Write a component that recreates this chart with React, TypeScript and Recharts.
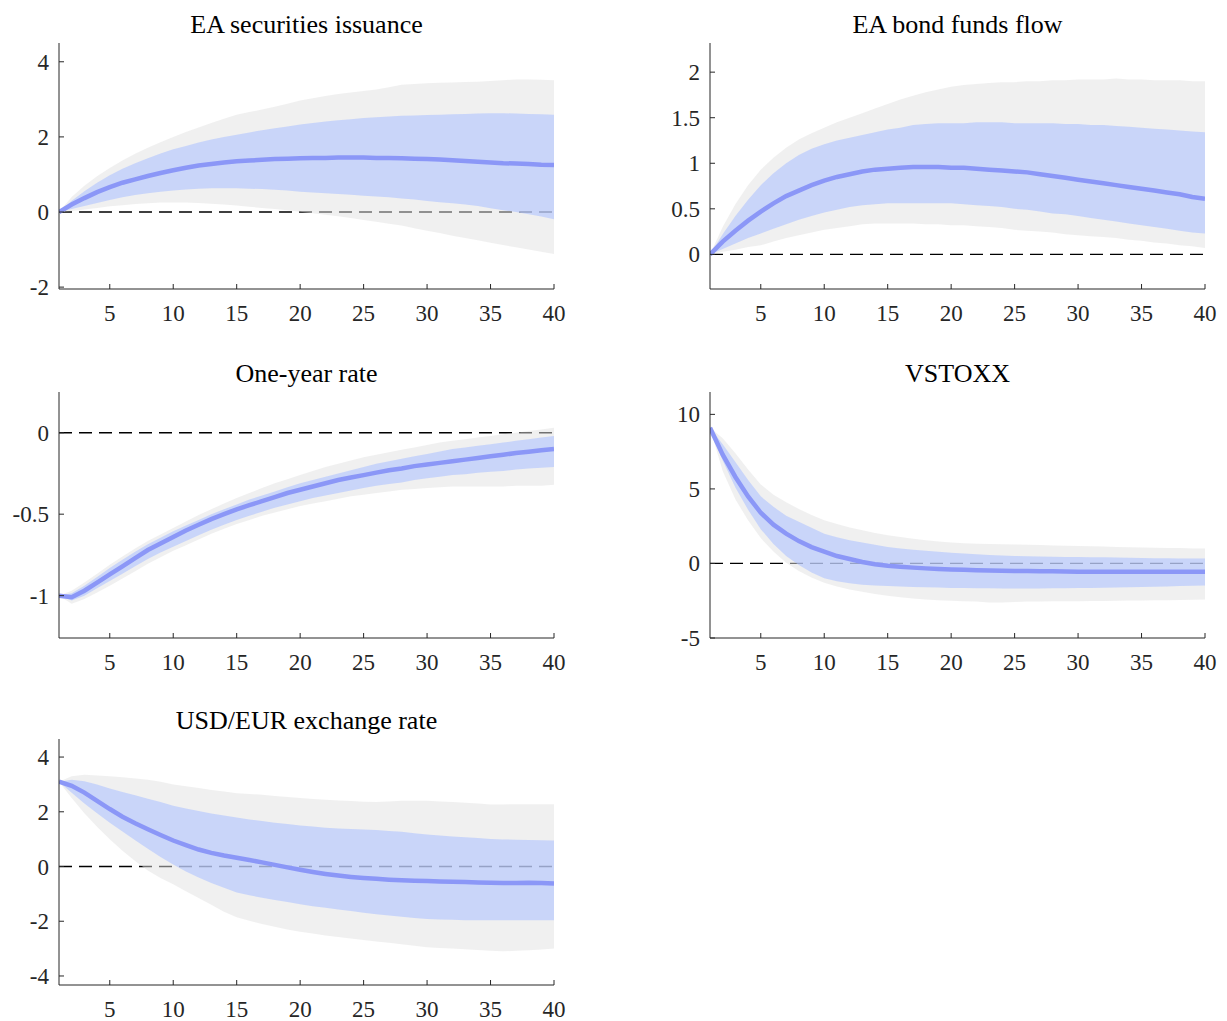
import { ComposedChart, Area, Line, XAxis, YAxis, CartesianGrid, ReferenceLine } from 'recharts'

// horizon 1..40
const periods = Array.from({ length: 40 }, (_, i) => i + 1)
const xTicks = [5, 10, 15, 20, 25, 30, 35, 40]

// EA securities issuance
const issuanceMed = [0, 0.2, 0.37, 0.53, 0.66, 0.78, 0.87, 0.96, 1.04, 1.11, 1.18, 1.24, 1.28, 1.32, 1.35, 1.37, 1.39, 1.41, 1.42, 1.43, 1.44, 1.44, 1.45, 1.45, 1.45, 1.44, 1.44, 1.43, 1.42, 1.41, 1.4, 1.38, 1.36, 1.34, 1.32, 1.3, 1.29, 1.28, 1.26, 1.25]
const issuanceLo68 = [0, 0.08, 0.16, 0.24, 0.32, 0.39, 0.45, 0.5, 0.54, 0.57, 0.6, 0.62, 0.63, 0.63, 0.63, 0.62, 0.61, 0.59, 0.57, 0.54, 0.52, 0.5, 0.48, 0.46, 0.43, 0.41, 0.39, 0.36, 0.33, 0.29, 0.26, 0.23, 0.2, 0.16, 0.1, 0.05, 0.0, -0.06, -0.12, -0.19]
const issuanceHi68 = [0, 0.3, 0.55, 0.78, 0.98, 1.15, 1.3, 1.43, 1.56, 1.67, 1.76, 1.85, 1.93, 2.0, 2.06, 2.12, 2.18, 2.23, 2.28, 2.33, 2.37, 2.41, 2.44, 2.47, 2.5, 2.52, 2.54, 2.56, 2.57, 2.58, 2.59, 2.6, 2.61, 2.62, 2.63, 2.63, 2.62, 2.61, 2.6, 2.59]
const issuanceLo90 = [0, 0.03, 0.07, 0.11, 0.15, 0.18, 0.21, 0.23, 0.25, 0.25, 0.25, 0.24, 0.22, 0.2, 0.17, 0.14, 0.11, 0.08, 0.05, 0.01, -0.03, -0.07, -0.11, -0.16, -0.21, -0.26, -0.31, -0.36, -0.43, -0.5, -0.56, -0.63, -0.69, -0.75, -0.82, -0.88, -0.94, -1.0, -1.06, -1.12]
const issuanceHi90 = [0, 0.4, 0.7, 0.95, 1.17, 1.37, 1.55, 1.71, 1.86, 2.0, 2.13, 2.25, 2.37, 2.48, 2.59, 2.66, 2.73, 2.8, 2.88, 2.97, 3.03, 3.09, 3.14, 3.18, 3.22, 3.26, 3.32, 3.39, 3.41, 3.43, 3.44, 3.45, 3.46, 3.47, 3.49, 3.51, 3.53, 3.53, 3.52, 3.51]

// EA bond funds flow
const fundsMed = [0, 0.14, 0.26, 0.37, 0.47, 0.56, 0.64, 0.7, 0.76, 0.81, 0.85, 0.88, 0.91, 0.93, 0.94, 0.95, 0.96, 0.96, 0.96, 0.95, 0.95, 0.94, 0.93, 0.92, 0.91, 0.9, 0.88, 0.86, 0.84, 0.82, 0.8, 0.78, 0.76, 0.74, 0.72, 0.7, 0.68, 0.66, 0.63, 0.61]
const fundsLo68 = [0, 0.06, 0.12, 0.18, 0.23, 0.28, 0.33, 0.38, 0.42, 0.46, 0.49, 0.52, 0.54, 0.55, 0.56, 0.56, 0.56, 0.56, 0.56, 0.56, 0.55, 0.54, 0.53, 0.52, 0.5, 0.49, 0.47, 0.45, 0.44, 0.42, 0.4, 0.38, 0.36, 0.34, 0.32, 0.3, 0.28, 0.26, 0.24, 0.23]
const fundsHi68 = [0, 0.22, 0.42, 0.6, 0.76, 0.89, 1.0, 1.09, 1.16, 1.21, 1.25, 1.28, 1.31, 1.34, 1.37, 1.39, 1.42, 1.43, 1.44, 1.44, 1.44, 1.45, 1.45, 1.45, 1.44, 1.44, 1.44, 1.44, 1.43, 1.43, 1.42, 1.42, 1.41, 1.4, 1.39, 1.38, 1.37, 1.36, 1.35, 1.34]
const fundsLo90 = [0, 0.03, 0.05, 0.08, 0.1, 0.14, 0.18, 0.21, 0.24, 0.27, 0.29, 0.31, 0.33, 0.34, 0.34, 0.34, 0.34, 0.33, 0.33, 0.32, 0.32, 0.31, 0.3, 0.29, 0.27, 0.26, 0.25, 0.24, 0.22, 0.21, 0.2, 0.19, 0.18, 0.16, 0.15, 0.13, 0.12, 0.1, 0.09, 0.07]
const fundsHi90 = [0, 0.3, 0.55, 0.76, 0.93, 1.06, 1.17, 1.26, 1.33, 1.39, 1.45, 1.5, 1.55, 1.6, 1.65, 1.7, 1.74, 1.78, 1.81, 1.84, 1.86, 1.87, 1.88, 1.89, 1.89, 1.9, 1.9, 1.91, 1.91, 1.92, 1.92, 1.92, 1.93, 1.92, 1.92, 1.91, 1.91, 1.91, 1.9, 1.9]

// One-year rate
const rateMed = [-1.0, -1.01, -0.97, -0.92, -0.87, -0.82, -0.77, -0.72, -0.68, -0.64, -0.6, -0.565, -0.53, -0.5, -0.47, -0.445, -0.42, -0.395, -0.37, -0.35, -0.33, -0.31, -0.29, -0.275, -0.26, -0.245, -0.23, -0.22, -0.205, -0.195, -0.185, -0.175, -0.165, -0.155, -0.145, -0.135, -0.125, -0.117, -0.108, -0.1]
const rateLo68 = [-1.0, -1.03, -1.0, -0.955, -0.91, -0.865, -0.82, -0.775, -0.735, -0.7, -0.665, -0.63, -0.595, -0.565, -0.535, -0.51, -0.485, -0.46, -0.44, -0.42, -0.4, -0.385, -0.37, -0.355, -0.34, -0.325, -0.315, -0.305, -0.29, -0.28, -0.27, -0.26, -0.255, -0.245, -0.24, -0.235, -0.225, -0.22, -0.215, -0.21]
const rateHi68 = [-1.0, -0.985, -0.94, -0.885, -0.83, -0.78, -0.73, -0.685, -0.645, -0.605, -0.57, -0.535, -0.5, -0.47, -0.44, -0.41, -0.385, -0.36, -0.335, -0.31, -0.29, -0.27, -0.25, -0.23, -0.21, -0.19, -0.175, -0.16, -0.145, -0.13, -0.115, -0.1, -0.09, -0.08, -0.07, -0.06, -0.05, -0.04, -0.03, -0.02]
const rateLo90 = [-1.0, -1.05, -1.02, -0.98, -0.94, -0.895, -0.85, -0.805, -0.765, -0.725, -0.69, -0.655, -0.62, -0.59, -0.56, -0.535, -0.51, -0.49, -0.47, -0.45, -0.435, -0.42, -0.405, -0.39, -0.38, -0.37, -0.36, -0.35, -0.345, -0.34, -0.335, -0.33, -0.33, -0.33, -0.33, -0.33, -0.325, -0.325, -0.325, -0.32]
const rateHi90 = [-1.0, -0.97, -0.92, -0.865, -0.81, -0.76, -0.71, -0.665, -0.625, -0.585, -0.545, -0.505, -0.47, -0.435, -0.4, -0.37, -0.34, -0.31, -0.285, -0.26, -0.235, -0.21, -0.19, -0.17, -0.15, -0.135, -0.12, -0.105, -0.09, -0.075, -0.06, -0.05, -0.04, -0.03, -0.02, -0.01, 0.0, 0.01, 0.02, 0.03]

// VSTOXX
const vstoxxMed = [9.1, 7.3, 5.8, 4.5, 3.4, 2.6, 2.0, 1.5, 1.1, 0.8, 0.5, 0.3, 0.1, -0.05, -0.15, -0.22, -0.28, -0.33, -0.37, -0.4, -0.43, -0.45, -0.47, -0.49, -0.5, -0.51, -0.52, -0.53, -0.54, -0.55, -0.55, -0.55, -0.55, -0.55, -0.55, -0.55, -0.55, -0.55, -0.55, -0.55]
const vstoxxLo68 = [9.1, 6.9, 5.1, 3.6, 2.3, 1.3, 0.5, -0.1, -0.6, -1.0, -1.2, -1.33, -1.42, -1.48, -1.52, -1.55, -1.58, -1.6, -1.62, -1.64, -1.65, -1.66, -1.67, -1.68, -1.68, -1.68, -1.68, -1.67, -1.66, -1.65, -1.64, -1.63, -1.61, -1.6, -1.58, -1.56, -1.54, -1.52, -1.5, -1.48]
const vstoxxHi68 = [9.1, 8.0, 6.8, 5.6, 4.5, 3.8, 3.2, 2.8, 2.4, 2.0, 1.75, 1.55, 1.4, 1.25, 1.1, 1.0, 0.92, 0.85, 0.78, 0.72, 0.66, 0.61, 0.57, 0.54, 0.5, 0.48, 0.46, 0.45, 0.44, 0.43, 0.42, 0.41, 0.4, 0.38, 0.36, 0.35, 0.35, 0.34, 0.34, 0.34]
const vstoxxLo90 = [9.1, 6.2, 4.3, 2.9, 1.7, 0.8, 0.05, -0.5, -0.95, -1.3, -1.55, -1.75, -1.9, -2.05, -2.17, -2.27, -2.35, -2.42, -2.46, -2.5, -2.53, -2.56, -2.62, -2.62, -2.58, -2.56, -2.55, -2.54, -2.53, -2.53, -2.52, -2.51, -2.5, -2.49, -2.48, -2.47, -2.46, -2.45, -2.43, -2.42]
const vstoxxHi90 = [9.1, 8.4, 7.4, 6.3, 5.3, 4.6, 4.1, 3.65, 3.25, 2.9, 2.65, 2.42, 2.22, 2.05, 1.9, 1.77, 1.65, 1.55, 1.47, 1.4, 1.36, 1.33, 1.31, 1.29, 1.27, 1.25, 1.23, 1.21, 1.19, 1.17, 1.15, 1.13, 1.11, 1.09, 1.07, 1.05, 1.04, 1.03, 1.01, 1.0]

// USD/EUR exchange rate
const fxMed = [3.1, 2.95, 2.7, 2.4, 2.1, 1.82, 1.58, 1.36, 1.15, 0.95, 0.78, 0.62, 0.5, 0.4, 0.32, 0.24, 0.15, 0.06, -0.03, -0.12, -0.2, -0.27, -0.33, -0.38, -0.42, -0.45, -0.48, -0.5, -0.52, -0.53, -0.55, -0.56, -0.57, -0.58, -0.59, -0.6, -0.6, -0.59, -0.6, -0.62]
const fxLo68 = [3.1, 2.7, 2.3, 1.95, 1.6, 1.28, 0.96, 0.65, 0.35, 0.07, -0.18, -0.4, -0.6, -0.78, -0.95, -1.05, -1.14, -1.22, -1.3, -1.38, -1.45, -1.51, -1.57, -1.63, -1.69, -1.74, -1.79, -1.84, -1.88, -1.92, -1.94, -1.95, -1.96, -1.96, -1.96, -1.96, -1.96, -1.96, -1.96, -1.96]
const fxHi68 = [3.1, 3.17, 3.12, 3.0, 2.85, 2.72, 2.6, 2.48, 2.36, 2.22, 2.12, 2.03, 1.94, 1.86, 1.79, 1.72, 1.66, 1.6, 1.55, 1.5, 1.46, 1.42, 1.39, 1.37, 1.35, 1.33, 1.3, 1.27, 1.22, 1.17, 1.13, 1.1, 1.07, 1.04, 1.01, 0.99, 0.98, 0.97, 0.96, 0.95]
const fxLo90 = [3.1, 2.5, 1.95, 1.45, 1.0, 0.58, 0.2, -0.15, -0.42, -0.65, -0.9, -1.15, -1.4, -1.65, -1.85, -1.98, -2.1, -2.2, -2.3, -2.38, -2.45, -2.52, -2.58, -2.63, -2.69, -2.74, -2.79, -2.84, -2.9, -2.95, -2.98, -3.0, -3.02, -3.05, -3.08, -3.1, -3.08, -3.06, -3.03, -3.0]
const fxHi90 = [3.1, 3.3, 3.35, 3.33, 3.3, 3.26, 3.22, 3.17, 3.1, 3.0, 2.93, 2.87, 2.8, 2.74, 2.68, 2.65, 2.62, 2.58, 2.54, 2.5, 2.47, 2.44, 2.41, 2.39, 2.37, 2.36, 2.38, 2.4, 2.4, 2.4, 2.38, 2.36, 2.33, 2.3, 2.27, 2.27, 2.28, 2.28, 2.28, 2.28]

const AXIS = '#262626'
const FONT = "'Liberation Serif', 'Times New Roman', serif"

const PLOT_W = 495
const PLOT_H = 246
const LEFT = 59
const TOP = 43
const W = LEFT + PLOT_W + 25
const H = TOP + PLOT_H + 45

function makeRows(med: number[], lo68: number[], hi68: number[], lo90: number[], hi90: number[]) {
  return periods.map((t, i) => ({
    t,
    med: med[i],
    inner: [lo68[i], hi68[i]],
    outer: [lo90[i], hi90[i]],
  }))
}

const XTick = (props: any) => {
  const { x, y, payload } = props
  return (
    <g>
      <line x1={x} x2={x} y1={y} y2={y - 5} stroke={AXIS} />
      <text x={x} y={y + 32} textAnchor="middle" fontSize={23} fontFamily={FONT} fill={AXIS}>
        {payload.value}
      </text>
    </g>
  )
}

const YTick = (props: any) => {
  const { x, y, payload } = props
  return (
    <g>
      <line x1={x} x2={x + 5} y1={y} y2={y} stroke={AXIS} />
      <text x={x - 10} y={y + 8} textAnchor="end" fontSize={23} fontFamily={FONT} fill={AXIS}>
        {payload.value}
      </text>
    </g>
  )
}

interface PanelProps {
  title: string
  left: number
  top: number
  domain: [number, number]
  yTicks: number[]
  data: any[]
}

function Panel({ title, left, top, domain, yTicks, data }: PanelProps) {
  const margin = { top: TOP, right: W - LEFT - PLOT_W, left: 0, bottom: 0 }
  return (
    <div style={{ position: 'absolute', left: left - LEFT, top: top - TOP, width: W, height: H }}>
      {/* grid and zero line sit under the bands */}
      <div style={{ position: 'absolute', left: 0, top: 0 }}>
        <ComposedChart width={W} height={H} data={data} margin={margin}>
          <CartesianGrid stroke="#dfdfdf" horizontalValues={yTicks} verticalValues={xTicks} />
          <XAxis dataKey="t" type="number" domain={[1, 40]} ticks={xTicks} height={45} axisLine={false} tickLine={false} tick={false} allowDataOverflow />
          <YAxis type="number" domain={domain} ticks={yTicks} width={LEFT} axisLine={false} tickLine={false} tick={false} allowDataOverflow />
          <ReferenceLine y={0} stroke="#000" strokeWidth={1.3} strokeDasharray="13 7" />
          <Line dataKey="med" stroke="none" dot={false} isAnimationActive={false} />
        </ComposedChart>
      </div>
      <div style={{ position: 'absolute', left: 0, top: 0 }}>
        <ComposedChart width={W} height={H} data={data} margin={margin}>
          <XAxis
            dataKey="t"
            type="number"
            domain={[1, 40]}
            ticks={xTicks}
            interval={0}
            height={45}
            axisLine={{ stroke: AXIS }}
            tickLine={false}
            tickSize={0}
            tickMargin={0}
            tick={<XTick />}
            allowDataOverflow
          />
          <YAxis
            type="number"
            domain={domain}
            ticks={yTicks}
            interval={0}
            width={LEFT}
            axisLine={{ stroke: AXIS }}
            tickLine={false}
            tickSize={0}
            tickMargin={0}
            tick={<YTick />}
            allowDataOverflow
          />
          <Area dataKey="outer" type="linear" fill="#e1e1e1" fillOpacity={0.5} stroke="none" isAnimationActive={false} />
          <Area dataKey="inner" type="linear" fill="#afc3ff" fillOpacity={0.6} stroke="none" isAnimationActive={false} />
          <Line dataKey="med" type="linear" stroke="#8b97f7" strokeWidth={4.5} dot={false} isAnimationActive={false} />
        </ComposedChart>
      </div>
      <svg width={W} height={TOP} style={{ position: 'absolute', left: 0, top: 0 }}>
        <text x={LEFT + PLOT_W / 2} y={TOP - 10} textAnchor="middle" fontSize={26} fontFamily={FONT} fill="#000">
          {title}
        </text>
      </svg>
    </div>
  )
}

export default function App() {
  return (
    <div style={{ position: 'absolute', left: 0, top: 0, width: 1227, height: 1021, background: '#fff' }}>
      <Panel
        title="EA securities issuance"
        left={59}
        top={43}
        domain={[-2.05, 4.5]}
        yTicks={[-2, 0, 2, 4]}
        data={makeRows(issuanceMed, issuanceLo68, issuanceHi68, issuanceLo90, issuanceHi90)}
      />
      <Panel
        title="EA bond funds flow"
        left={710}
        top={43}
        domain={[-0.38, 2.32]}
        yTicks={[0, 0.5, 1, 1.5, 2]}
        data={makeRows(fundsMed, fundsLo68, fundsHi68, fundsLo90, fundsHi90)}
      />
      <Panel
        title="One-year rate"
        left={59}
        top={392}
        domain={[-1.26, 0.25]}
        yTicks={[-1, -0.5, 0]}
        data={makeRows(rateMed, rateLo68, rateHi68, rateLo90, rateHi90)}
      />
      <Panel
        title="VSTOXX"
        left={710}
        top={392}
        domain={[-5, 11.5]}
        yTicks={[-5, 0, 5, 10]}
        data={makeRows(vstoxxMed, vstoxxLo68, vstoxxHi68, vstoxxLo90, vstoxxHi90)}
      />
      <Panel
        title="USD/EUR exchange rate"
        left={59}
        top={739}
        domain={[-4.33, 4.66]}
        yTicks={[-4, -2, 0, 2, 4]}
        data={makeRows(fxMed, fxLo68, fxHi68, fxLo90, fxHi90)}
      />
    </div>
  )
}
